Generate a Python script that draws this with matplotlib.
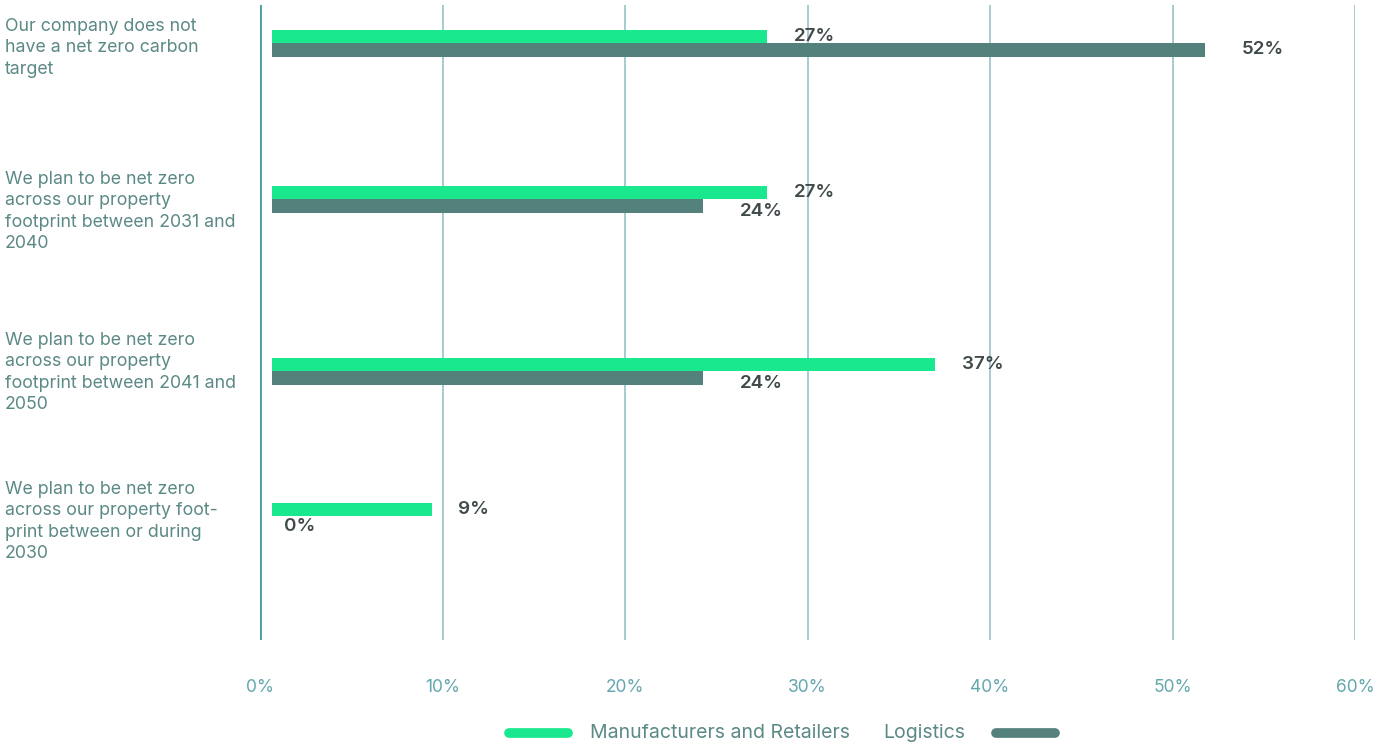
import matplotlib
matplotlib.use("Agg")
import matplotlib.pyplot as plt
from matplotlib.lines import Line2D

plt.rcParams['font.family'] = ['Inter', 'DejaVu Sans']

categories = [
    "Our company does not\nhave a net zero carbon\ntarget",
    "We plan to be net zero\nacross our property\nfootprint between 2031 and\n2040",
    "We plan to be net zero\nacross our property\nfootprint between 2041 and\n2050",
    "We plan to be net zero\nacross our property foot-\nprint between or during\n2030",
]
manufacturers = [27.8, 27.8, 37.0, 9.4]
logistics = [51.8, 24.3, 24.3, 0.0]
manufacturers_labels = ["27%", "27%", "37%", "9%"]
logistics_labels = ["52%", "24%", "24%", "0%"]
xticks = [0, 10, 20, 30, 40, 50, 60]
xtick_labels = ["0%", "10%", "20%", "30%", "40%", "50%", "60%"]
series_names = ["Manufacturers and Retailers", "Logistics"]

GREEN = "#1ae88f"
GRAY = "#55817d"
TEXT = "#5b8985"
TICK = "#63a7ae"
VAL = "#404a4a"

W, H = 1391, 747
fig = plt.figure(figsize=(W / 100, H / 100), dpi=100)
ax = fig.add_axes([260 / W, 1 - 640 / H, (1355 - 260) / W, (640 - 5) / H])

# layout: category centre positions (pixel-like units from axes top)
ypos = [38, 194, 366, 511]
bh = 13.5
bar_start = 0.65

ax.set_xlim(0, 60)
ax.set_ylim(635, 0)

for i, y in enumerate(ypos):
    m = manufacturers[i]
    l = logistics[i]
    ax.barh(y - bh / 2, m - bar_start, left=bar_start, height=bh, color=GREEN, zorder=3)
    if l > 0:
        ax.barh(y + bh / 2, l - bar_start, left=bar_start, height=bh, color=GRAY, zorder=3)
    ax.annotate(manufacturers_labels[i], (m, y - bh / 2), xytext=(19, 0),
                textcoords="offset points", va="center", ha="left",
                fontsize=13.5, color=VAL, fontweight="semibold", zorder=4)
    if l > 0:
        dy = 0 if i == 0 else -4
        ax.annotate(logistics_labels[i], (l, y + bh / 2), xytext=(26, dy),
                    textcoords="offset points", va="center", ha="left",
                    fontsize=13.5, color=VAL, fontweight="semibold", zorder=4)
    else:
        ax.annotate(logistics_labels[i], (bar_start, y + bh / 2), xytext=(9, -3),
                    textcoords="offset points", va="center", ha="left",
                    fontsize=13.5, color=VAL, fontweight="semibold", zorder=4)

# category labels
label_tops = [18, 171, 332, 481]
for lab, top in zip(categories, label_tops):
    fig.text(5 / W, 1 - top / H, lab, ha="left", va="top", fontsize=12.8,
             color=TEXT, linespacing=1.33)

# grid
for x in xticks[1:]:
    ax.axvline(x, color="#8fbdc3", lw=1.1, zorder=1)
ax.axvline(0, color="#4d9aa3", lw=2, zorder=2)

ax.set_xticks(xticks)
ax.set_xticklabels(xtick_labels, fontsize=12.5, color=TICK)
ax.tick_params(axis="x", length=0, pad=28)
ax.set_yticks([])
for s in ax.spines.values():
    s.set_visible(False)

# legend (manual)
ly = 1 - 733 / H
fig.add_artist(Line2D([509 / W, 568 / W], [ly, ly], color=GREEN, lw=7,
                      solid_capstyle="round", transform=fig.transFigure))
fig.text(590 / W, ly, series_names[0], ha="left", va="center", fontsize=14, color=TEXT)
fig.text(883 / W, ly, series_names[1], ha="left", va="center", fontsize=14, color=TEXT)
fig.add_artist(Line2D([996 / W, 1055 / W], [ly, ly], color=GRAY, lw=7,
                      solid_capstyle="round", transform=fig.transFigure))

fig.savefig("out.png", dpi=100)
